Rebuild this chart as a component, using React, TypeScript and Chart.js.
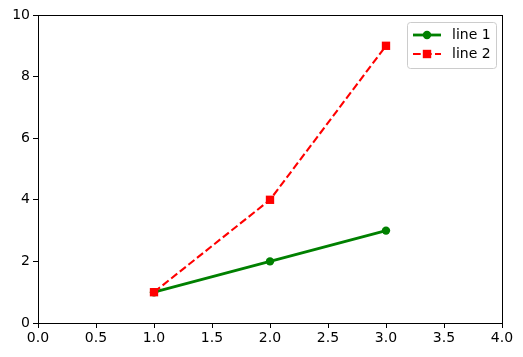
import React, { useEffect, useRef } from "react";
import { Chart, registerables } from "chart.js";

Chart.register(...registerables);

const xValues = [1, 2, 3];
const line1Values = [1, 2, 3];
const line2Values = [1, 4, 9];
const seriesNames = ["line 1", "line 2"];
const xTicks = [0, 0.5, 1, 1.5, 2, 2.5, 3, 3.5, 4];
const yTicks = [0, 2, 4, 6, 8, 10];

const FONT = "DejaVu Sans";
const DASH = [7.7, 3.3];

const framePlugin = {
  id: "frame",
  afterDraw(chart: any) {
    const { ctx, chartArea: a } = chart;
    ctx.save();
    ctx.strokeStyle = "#000";
    ctx.lineWidth = 1;
    ctx.strokeRect(Math.round(a.left) + 0.5, Math.round(a.top) + 0.5, Math.round(a.right - a.left), Math.round(a.bottom - a.top));
    // legend
    const x0 = 407, y0 = 22, w = 89, h = 46;
    ctx.fillStyle = "rgba(255,255,255,0.8)";
    ctx.strokeStyle = "#cccccc";
    ctx.beginPath();
    (ctx as any).roundRect(x0 + 0.5, y0 + 0.5, w, h, 3);
    ctx.fill();
    ctx.stroke();
    const rows = [
      { y: 35, color: "#008000", width: 2.8, dash: [] as number[], marker: "circle" },
      { y: 54, color: "#ff0000", width: 2.1, dash: DASH, marker: "square" },
    ];
    rows.forEach((r, i) => {
      ctx.strokeStyle = r.color;
      ctx.lineWidth = r.width;
      ctx.setLineDash(r.dash);
      ctx.beginPath();
      ctx.moveTo(413, r.y);
      ctx.lineTo(441, r.y);
      ctx.stroke();
      ctx.setLineDash([]);
      ctx.fillStyle = r.color;
      if (r.marker === "circle") {
        ctx.beginPath();
        ctx.arc(427, r.y, 4.2, 0, Math.PI * 2);
        ctx.fill();
      } else {
        ctx.fillRect(427 - 4.2, r.y - 4.2, 8.4, 8.4);
      }
      ctx.fillStyle = "#000";
      ctx.font = `14px "${FONT}"`;
      ctx.textBaseline = "middle";
      ctx.textAlign = "left";
      ctx.fillText(seriesNames[i], 452, r.y);
    });
    ctx.restore();
  },
};

export default function App() {
  const ref = useRef<HTMLCanvasElement>(null);
  useEffect(() => {
    const chart = new Chart(ref.current!, {
      type: "line",
      data: {
        datasets: [
          {
            label: seriesNames[0],
            data: xValues.map((x, i) => ({ x, y: line1Values[i] })),
            borderColor: "#008000",
            backgroundColor: "#008000",
            borderWidth: 2.8,
            pointStyle: "circle",
            pointRadius: 4.2,
            pointBorderWidth: 0,
            tension: 0,
            order: 1,
          },
          {
            label: seriesNames[1],
            data: xValues.map((x, i) => ({ x, y: line2Values[i] })),
            borderColor: "#ff0000",
            backgroundColor: "#ff0000",
            borderWidth: 2.1,
            borderDash: DASH,
            pointStyle: "rect",
            pointRadius: 5.9,
            pointBorderWidth: 0,
            tension: 0,
            order: 0,
          },
        ],
      },
      options: {
        animation: false,
        responsive: false,
        layout: { padding: { left: 0, top: 15, right: 21, bottom: 0 } },
        plugins: { legend: { display: false }, tooltip: { enabled: false } },
        scales: {
          x: {
            type: "linear",
            min: 0,
            max: 4,
            afterBuildTicks: (s: any) => {
              s.ticks = xTicks.map((v) => ({ value: v }));
            },
            afterFit: (s: any) => {
              s.height = 34;
            },
            grid: { drawOnChartArea: false, tickLength: 5, color: "#000", tickColor: "#000" },
            border: { display: false },
            ticks: {
              color: "#000",
              font: { family: FONT, size: 14 },
              padding: 2,
              maxRotation: 0,
              autoSkip: false,
              callback: (v: any) => Number(v).toFixed(1),
            },
          },
          y: {
            min: 0,
            max: 10,
            afterBuildTicks: (s: any) => {
              s.ticks = yTicks.map((v) => ({ value: v }));
            },
            afterFit: (s: any) => {
              s.width = 38;
            },
            grid: { drawOnChartArea: false, tickLength: 5, color: "#000", tickColor: "#000" },
            border: { display: false },
            ticks: {
              color: "#000",
              font: { family: FONT, size: 14 },
              padding: 3,
              autoSkip: false,
              callback: (v: any) => String(v),
            },
          },
        },
      },
      plugins: [framePlugin],
    });
    return () => chart.destroy();
  }, []);
  return (
    <div style={{ position: "absolute", left: 0, top: 0, width: 523, height: 357, background: "#fff" }}>
      <canvas ref={ref} width={523} height={357} />
    </div>
  );
}
